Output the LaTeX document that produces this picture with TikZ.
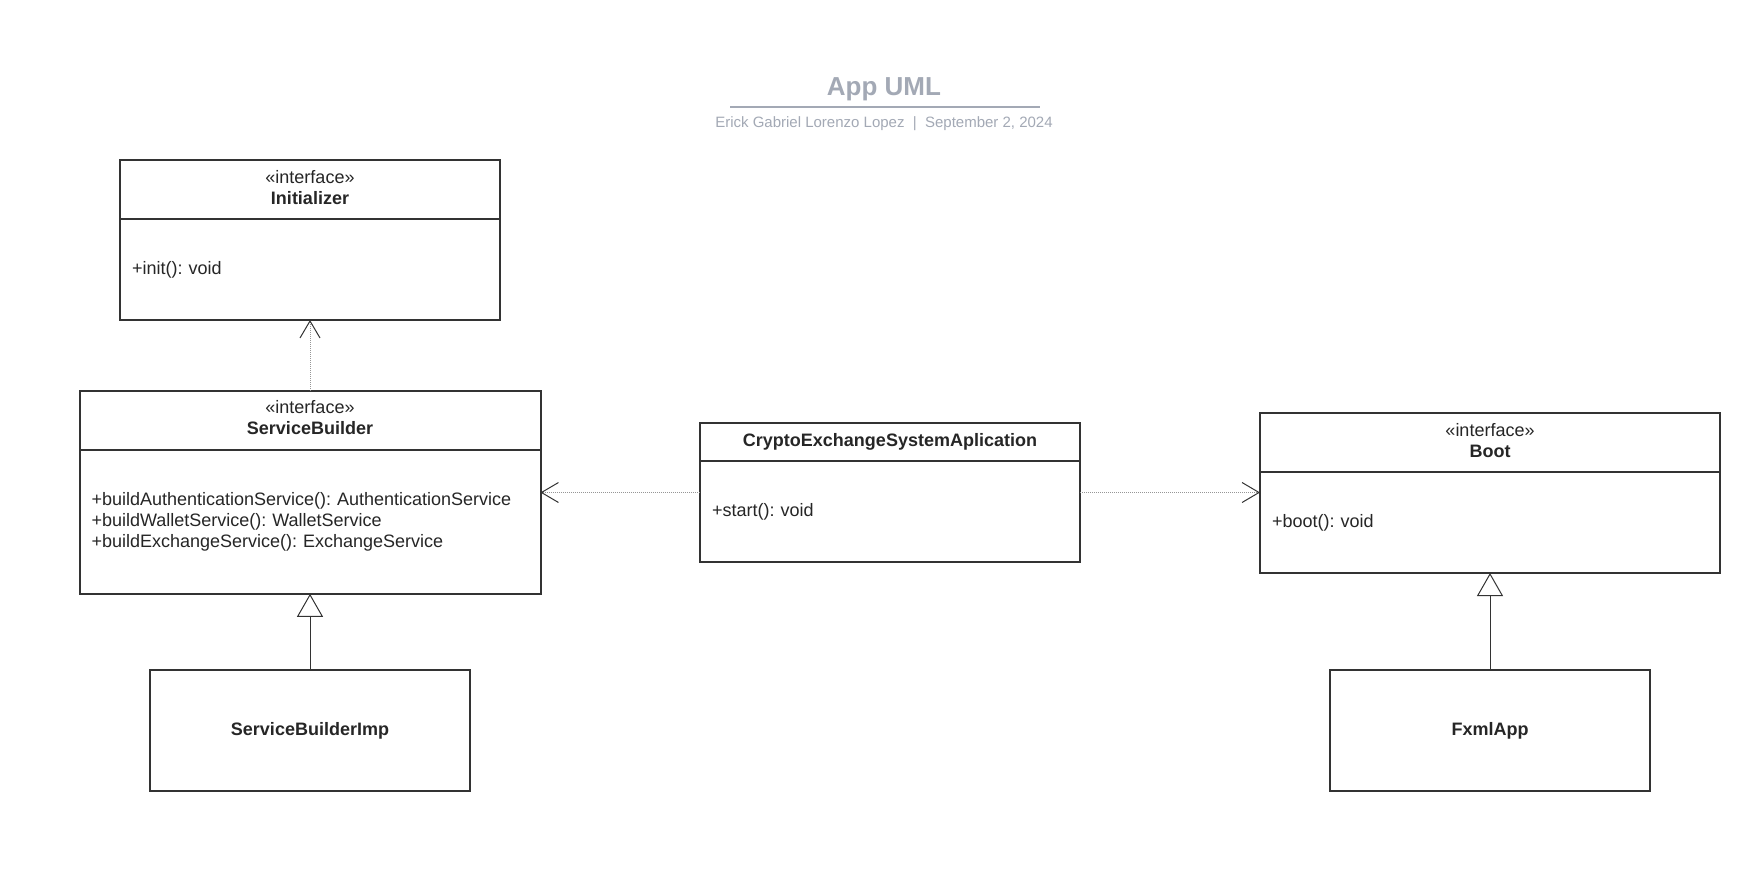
\documentclass[tikz,border=0pt]{standalone}
\usepackage{fontspec}
\setmainfont{Liberation Sans}
\frenchspacing
\usetikzlibrary{arrows.meta, positioning, calc}
\definecolor{umlLine}{RGB}{51, 51, 51}
\definecolor{umlText}{RGB}{38, 38, 38}
\definecolor{umlTitle}{RGB}{163, 169, 181}
\definecolor{umlDots}{RGB}{150, 150, 150}
\tikzset{
  classhead/.style={rectangle, draw=umlLine, line width=2pt, outer sep=0pt, minimum height=59pt, text depth=5pt, align=center, text=umlText, font=\fontsize{18}{21}\selectfont},
  classbody/.style={rectangle, draw=umlLine, line width=2pt, outer sep=0pt, inner xsep=12pt, align=left, text=umlText, font=\fontsize{18}{21}\selectfont},
  classbox/.style={rectangle, draw=umlLine, line width=2pt, outer sep=0pt, minimum width=320pt, minimum height=121pt, align=center, text=umlText, font=\fontsize{18}{21}\selectfont\bfseries},
  depends/.style={draw=umlDots, line width=1pt, dash pattern=on 1pt off 1pt, -{Straight Barb[length=17pt, width=20pt, color=umlLine, line width=1pt]}},
  realizes/.style={draw=umlLine, line width=1pt, -{Triangle[open, length=23pt, width=26pt, fill=white, color=umlLine, line width=1pt]}},
}
\begin{document}
\begin{tikzpicture}[x=1pt, y=-1pt]
  \useasboundingbox[fill=white] (0,0) rectangle (1755,888);

  % title block
  \node[text=umlTitle, font=\fontsize{26}{30}\selectfont\bfseries] (title) at (884,89) {App UML};
  \draw[umlTitle, line width=2pt] (730,107) -- (1040,107);
  \node[text=umlTitle, font=\fontsize{15}{18}\selectfont] (subtitle) at (884,124) {Erick Gabriel Lorenzo Lopez~~|~~September 2, 2024};

  % interfaces
  \node[classhead, minimum width=380pt] (initHead) at (310,189.5) {«interface»\\\textbf{Initializer}};
  \node[classbody, text width=356pt, minimum height=101pt, below=0pt of initHead] (initBody) {+init(): void};

  \node[classhead, minimum width=461pt] (sbHead) at (310,420.3) {«interface»\\\textbf{ServiceBuilder}};
  \node[classbody, text width=437pt, minimum height=144pt, below=0pt of sbHead] (sbBody) {+buildAuthenticationService(): AuthenticationService\\+buildWalletService(): WalletService\\+buildExchangeService(): ExchangeService};

  \node[classhead, minimum width=460pt] (bootHead) at (1490,442.5) {«interface»\\\textbf{Boot}};
  \node[classbody, text width=436pt, minimum height=101pt, below=0pt of bootHead] (bootBody) {+boot(): void};

  % main class
  \node[classhead, minimum width=380pt, minimum height=38pt] (appHead) at (890,442) {\textbf{CryptoExchangeSystemAplication}};
  \node[classbody, text width=356pt, minimum height=101pt, below=0pt of appHead] (appBody) {+start(): void};

  % implementations
  \node[classbox] (sbImp) at (310,730.5) {ServiceBuilderImp};
  \node[classbox] (fxmlApp) at (1490,730.5) {FxmlApp};

  % connectors
  \coordinate (appW) at ($(appHead.north west)!0.5!(appBody.south west)$);
  \coordinate (appE) at ($(appHead.north east)!0.5!(appBody.south east)$);
  \draw[depends] (sbHead.north) -- (initBody.south);
  \draw[depends] (appW) -- (appW -| sbBody.east);
  \draw[depends] (appE) -- (appE -| bootBody.west);
  \draw[realizes] (sbImp.north) -- (sbBody.south);
  \draw[realizes] (fxmlApp.north) -- (bootBody.south);
\end{tikzpicture}
\end{document}
